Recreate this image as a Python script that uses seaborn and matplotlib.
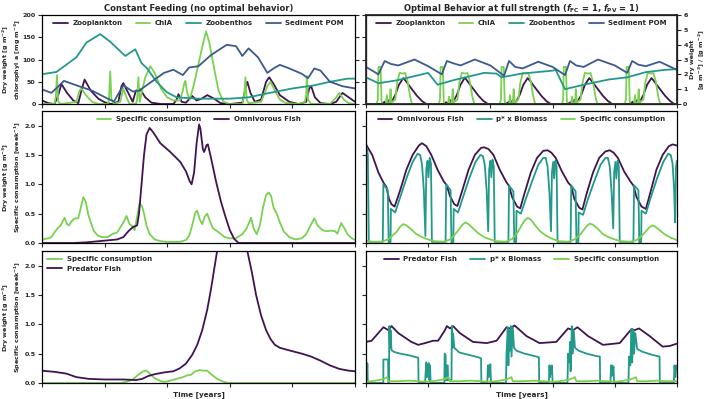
"""Constant feeding vs optimal behaviour, 3x2 panel figure"""

import numpy as np
import matplotlib
matplotlib.use('Agg')
import matplotlib.pyplot as plt
import seaborn as sns

PURPLE = '#3f1451'
GREEN = '#7ad151'
TEAL = '#23998a'
BLUE = '#3b5a8f'

# --- top left: constant feeding, plankton / benthos ---
tl_zoo_t = [0, 0.1, 0.2, 0.26, 0.31, 0.4, 0.5, 0.58, 0.63, 0.68, 0.78, 0.9, 1.0, 1.1, 1.22, 1.27, 1.3,
            1.36, 1.45, 1.5, 1.57, 1.65, 1.75, 1.9, 2.1, 2.15, 2.18, 2.23, 2.3, 2.4, 2.47, 2.55, 2.64,
            2.75, 2.85, 3.0, 3.2, 3.26, 3.28, 3.33, 3.4, 3.5, 3.58, 3.63, 3.7, 3.8, 3.95, 4.1, 4.22,
            4.27, 4.3, 4.36, 4.45, 4.6, 4.7, 4.8, 4.9, 5.0]
tl_zoo_v = [8, 2, 0, 20, 45, 25, 8, 2, 30, 55, 30, 12, 4, 0, 5, 40, 47,
            30, 5, 30, 33, 15, 3, 0, 0, 10, 22, 5, 3, 18, 8, 12, 20,
            12, 2, 0, 3, 40, 50, 25, 5, 10, 50, 60, 45, 20, 5, 0, 5,
            35, 40, 15, 2, 0, 5, 25, 15, 5]
tl_chla_t = [0, 0.2, 0.22, 0.24, 0.26, 0.3, 0.55, 0.6, 0.63, 0.7, 0.8, 0.9, 1.05, 1.07, 1.09, 1.11,
             1.15, 1.25, 1.3, 1.35, 1.4, 1.5, 1.52, 1.54, 1.56, 1.6, 1.65, 1.73, 1.8, 1.9, 2.0, 2.1,
             2.2, 2.25, 2.27, 2.29, 2.32, 2.36, 2.42, 2.5, 2.58, 2.62, 2.67, 2.75, 2.82, 2.9, 3.0,
             3.2, 3.23, 3.25, 3.27, 3.3, 3.5, 3.6, 3.65, 3.72, 3.8, 3.9, 4.1, 4.2, 4.22, 4.23, 4.25,
             4.3, 4.6, 4.7, 4.75, 4.82, 4.9, 5.0]
tl_chla_v = [0, 0, 15, 65, 5, 0, 5, 30, 35, 20, 5, 0, 0, 10, 73, 10,
             0, 5, 35, 15, 0, 0, 10, 60, 5, 30, 60, 85, 70, 35, 15, 8,
             8, 30, 45, 52, 25, 10, 40, 90, 140, 163, 140, 80, 30, 5, 0,
             0, 20, 60, 10, 2, 5, 40, 50, 30, 10, 2, 0, 5, 20, 63, 10,
             0, 0, 15, 25, 10, 2, 0]
tl_zoob_t = [0, 0.23, 0.55, 0.71, 0.93, 1.09, 1.33, 1.49, 1.59, 1.68, 1.83, 1.99, 2.15, 2.5,
             3.0, 3.3, 3.6, 4.0, 4.35, 4.6, 4.88, 5.0]
tl_zoob_v = [67, 72, 105, 138, 157, 140, 108, 123, 92, 80, 50, 27, 15, 12,
             12, 15, 24, 35, 42, 50, 57, 57]
tl_pom_t = [0, 0.15, 0.25, 0.35, 0.55, 0.8, 1.05, 1.15, 1.3, 1.45, 1.55, 1.75, 1.95, 2.1, 2.25,
            2.35, 2.5, 2.7, 2.95, 3.1, 3.2, 3.3, 3.45, 3.6, 3.7, 3.8, 3.95, 4.15, 4.25, 4.35, 4.45,
            4.6, 4.8, 5.0]
tl_pom_v = [33, 25, 38, 52, 42, 30, 12, 6, 42, 28, 30, 50, 70, 77, 65,
            82, 85, 110, 133, 130, 108, 125, 105, 70, 80, 88, 80, 68, 58, 80, 75,
            50, 40, 35]

# --- top right: optimal behaviour, plankton / benthos ---
tr_zoo_t = [0.0, 0.25, 0.3, 0.32, 0.36, 0.385, 0.42, 0.47, 0.53, 0.6, 0.64, 0.72, 0.82, 0.9, 0.97,
            1.24, 1.29, 1.31, 1.35, 1.375, 1.41, 1.46, 1.52, 1.59, 1.63, 1.71, 1.81, 1.89, 1.96,
            2.25, 2.3, 2.32, 2.36, 2.385, 2.42, 2.47, 2.53, 2.6, 2.64, 2.72, 2.82, 2.9, 2.97,
            3.24, 3.29, 3.31, 3.35, 3.375, 3.41, 3.46, 3.52, 3.59, 3.63, 3.71, 3.81, 3.89, 3.96,
            4.24, 4.29, 4.31, 4.35, 4.375, 4.41, 4.46, 4.52, 4.59, 4.63, 4.71, 4.81, 4.89, 4.96, 5.0]
tr_zoo_v = [0, 0, 0.15, 0, 0.25, 0.05, 0.2, 0.6, 1.3, 1.75, 1.55, 1.1, 0.55, 0.2, 0,
            0, 0.12, 0, 0.28, 0.05, 0.22, 0.6, 1.3, 1.78, 1.55, 1.1, 0.55, 0.2, 0,
            0, 0.15, 0, 0.25, 0.05, 0.2, 0.6, 1.3, 1.75, 1.55, 1.1, 0.55, 0.2, 0,
            0, 0.12, 0, 0.28, 0.05, 0.22, 0.6, 1.3, 1.75, 1.55, 1.1, 0.55, 0.2, 0,
            0, 0.15, 0, 0.25, 0.05, 0.2, 0.6, 1.3, 1.75, 1.55, 1.1, 0.55, 0.2, 0, 0]
tr_chla_t = [0.0,
             0.17, 0.19, 0.2, 0.235, 0.25, 0.26, 0.32, 0.335, 0.35, 0.38, 0.395, 0.41, 0.47, 0.5, 0.54, 0.6, 0.63, 0.67, 0.71, 0.74,
             1.17, 1.19, 1.2, 1.235, 1.25, 1.26, 1.32, 1.335, 1.35, 1.38, 1.395, 1.41, 1.47, 1.5, 1.54, 1.6, 1.63, 1.67, 1.71, 1.74,
             2.15, 2.17, 2.18, 2.215, 2.23, 2.24, 2.3, 2.315, 2.33, 2.36, 2.375, 2.39, 2.45, 2.48, 2.52, 2.58, 2.61, 2.65, 2.69, 2.72,
             3.15, 3.17, 3.18, 3.215, 3.23, 3.24, 3.3, 3.315, 3.33, 3.36, 3.375, 3.39, 3.45, 3.48, 3.52, 3.58, 3.61, 3.65, 3.69, 3.72,
             4.16, 4.18, 4.19, 4.225, 4.24, 4.25, 4.31, 4.325, 4.34, 4.37, 4.385, 4.4, 4.46, 4.49, 4.53, 4.59, 4.62, 4.66, 4.7, 4.73,
             5.0]
tr_chla_v = [0,
             0, 0.3, 2.5, 2.5, 0.2, 0, 0, 0.6, 0, 0, 1.0, 0.1, 0.3, 1.4, 2.1, 2.05, 2.1, 1.5, 0.5, 0,
             0, 0.3, 2.5, 2.5, 0.2, 0, 0, 0.5, 0, 0, 1.0, 0.1, 0.3, 1.4, 2.1, 2.05, 2.1, 1.5, 0.5, 0,
             0, 0.3, 2.5, 2.5, 0.2, 0, 0, 0.6, 0, 0, 1.0, 0.1, 0.3, 1.4, 2.1, 2.05, 2.1, 1.5, 0.5, 0,
             0, 0.3, 2.5, 2.5, 0.2, 0, 0, 0.5, 0, 0, 1.0, 0.1, 0.3, 1.4, 2.1, 2.05, 2.1, 1.5, 0.5, 0,
             0, 0.3, 2.5, 2.5, 0.2, 0, 0, 0.6, 0, 0, 1.0, 0.1, 0.3, 1.4, 2.1, 2.05, 2.1, 1.5, 0.5, 0,
             0]
tr_zoob_t = [0, 0.2, 0.5, 0.95, 1.0, 1.15, 1.4, 1.9, 2.1, 2.18, 2.5, 3.0, 3.05, 3.2, 3.5, 3.9,
             4.2, 4.5, 4.8, 5.0]
tr_zoob_v = [1.8, 1.4, 1.6, 2.05, 2.1, 1.3, 1.6, 2.1, 2.05, 1.8, 2.05, 2.25, 2.3, 1.0, 1.3, 1.65,
             1.8, 2.15, 2.3, 2.35]
tr_pom_t = [0, 0.2, 0.3, 0.4, 0.52, 0.78, 1.0, 1.22, 1.3, 1.4, 1.52, 1.75, 2.0, 2.22, 2.3, 2.4,
            2.52, 2.77, 3.0, 3.2, 3.28, 3.38, 3.5, 3.73, 4.0, 4.2, 4.28, 4.38, 4.5, 4.72, 5.0]
tr_pom_v = [2.5, 2.0, 2.9, 2.7, 2.6, 3.0, 2.55, 2.0, 2.9, 2.75, 2.6, 3.0, 2.6, 1.9, 2.9, 2.5,
            2.4, 2.85, 2.5, 1.95, 2.9, 2.6, 2.5, 3.0, 2.6, 2.1, 2.9, 2.65, 2.55, 2.85, 2.3]

# --- middle left: omnivorous fish, constant feeding ---
ml_fish_t = [0, 0.5, 0.7, 1.0, 1.2, 1.3, 1.38, 1.45, 1.52, 1.55, 1.59, 1.63, 1.67, 1.72, 1.78,
             1.89, 2.05, 2.21, 2.3, 2.36, 2.39, 2.43, 2.47, 2.51, 2.53, 2.57, 2.59, 2.63, 2.65,
             2.7, 2.78, 2.86, 2.93, 3.0, 3.07, 3.14, 5.0]
ml_fish_v = [0, 0, 0.01, 0.04, 0.06, 0.1, 0.2, 0.27, 0.3, 0.5, 1.0, 1.5, 1.85, 1.96, 1.88,
             1.7, 1.55, 1.38, 1.22, 1.05, 1.0, 1.2, 1.7, 2.02, 1.95, 1.6, 1.55, 1.67, 1.68,
             1.45, 1.05, 0.7, 0.45, 0.22, 0.07, 0.0, 0.0]
ml_cons_t = [0, 0.05, 0.1, 0.15, 0.2, 0.25, 0.3, 0.36, 0.4, 0.43, 0.48, 0.53, 0.58, 0.62, 0.66,
             0.7, 0.74, 0.78, 0.83, 0.9, 0.96, 1.05, 1.12, 1.2, 1.26, 1.3, 1.35, 1.4, 1.45, 1.48,
             1.52, 1.56, 1.6, 1.63, 1.67, 1.72, 1.8, 1.9, 2.0, 2.2, 2.3, 2.35, 2.4, 2.45, 2.48,
             2.52, 2.56, 2.6, 2.64, 2.68, 2.73, 2.8, 2.86, 2.92, 3.0, 3.1, 3.2, 3.27, 3.34, 3.38,
             3.43, 3.48, 3.53, 3.58, 3.62, 3.66, 3.7, 3.75, 3.8, 3.86, 3.95, 4.05, 4.15, 4.22,
             4.28, 4.35, 4.4, 4.48, 4.55, 4.62, 4.68, 4.72, 4.78, 4.83, 4.88, 4.95, 5.0]
ml_cons_v = [0.05, 0.07, 0.08, 0.1, 0.18, 0.25, 0.3, 0.43, 0.32, 0.3, 0.38, 0.42, 0.42, 0.6, 0.78,
             0.7, 0.48, 0.35, 0.2, 0.12, 0.1, 0.1, 0.15, 0.18, 0.28, 0.35, 0.46, 0.32, 0.28, 0.22,
             0.45, 0.68, 0.62, 0.5, 0.3, 0.15, 0.06, 0.03, 0.02, 0.02, 0.05, 0.12, 0.3, 0.52, 0.55,
             0.4, 0.32, 0.45, 0.5, 0.38, 0.25, 0.2, 0.15, 0.1, 0.08, 0.08, 0.15, 0.25, 0.43, 0.25,
             0.15, 0.3, 0.6, 0.82, 0.86, 0.8, 0.6, 0.5, 0.35, 0.2, 0.1, 0.06, 0.08, 0.15,
             0.28, 0.42, 0.3, 0.22, 0.2, 0.21, 0.2, 0.16, 0.34, 0.25, 0.15, 0.08, 0.05]

# --- middle right: omnivorous fish, optimal behaviour ---
mr_fish_t = [0, 0.1, 0.2, 0.28, 0.33, 0.37, 0.41, 0.46, 0.55, 0.65, 0.75, 0.85, 0.9, 0.97, 1.05,
             1.15, 1.25, 1.3, 1.35, 1.42, 1.47, 1.55, 1.65, 1.75, 1.85, 1.9, 1.97, 2.05, 2.15, 2.25,
             2.3, 2.35, 2.43, 2.48, 2.55, 2.65, 2.75, 2.85, 2.92, 2.98, 3.05, 3.15, 3.25, 3.3, 3.35,
             3.43, 3.48, 3.55, 3.65, 3.75, 3.85, 3.92, 3.98, 4.05, 4.15, 4.25, 4.3, 4.35, 4.43, 4.5,
             4.57, 4.67, 4.77, 4.87, 4.93, 5.0]
mr_fish_v = [1.68, 1.5, 1.2, 1.03, 0.95, 0.75, 0.66, 0.62, 0.9, 1.25, 1.5, 1.66, 1.7, 1.65, 1.5,
             1.25, 1.05, 0.98, 0.8, 0.66, 0.63, 0.9, 1.25, 1.5, 1.62, 1.63, 1.6, 1.5, 1.25, 1.05,
             0.97, 0.78, 0.62, 0.59, 0.85, 1.2, 1.45, 1.57, 1.58, 1.54, 1.45, 1.22, 1.03, 0.97, 0.75,
             0.6, 0.57, 0.85, 1.2, 1.45, 1.56, 1.58, 1.54, 1.45, 1.22, 1.05, 0.98, 0.78, 0.62, 0.58,
             0.85, 1.25, 1.5, 1.65, 1.68, 1.66]
mr_pbio_t = [0, 0.015, 0.03, 0.045,
             0.27, 0.28, 0.35, 0.365, 0.395, 0.4, 0.47, 0.55, 0.65, 0.75, 0.83, 0.87, 0.9, 0.93, 0.955, 0.97, 0.99, 1.005, 1.025, 1.045, 1.06,
             1.28, 1.29, 1.36, 1.375, 1.405, 1.41, 1.48, 1.56, 1.66, 1.76, 1.84, 1.88, 1.91, 1.94, 1.965, 1.98, 2.0, 2.015, 2.035, 2.055, 2.07,
             2.29, 2.3, 2.37, 2.385, 2.415, 2.42, 2.49, 2.57, 2.67, 2.77, 2.85, 2.89, 2.92, 2.95, 2.975, 2.99, 3.01, 3.025, 3.045, 3.065, 3.08,
             3.29, 3.3, 3.37, 3.385, 3.415, 3.42, 3.49, 3.57, 3.67, 3.77, 3.85, 3.89, 3.92, 3.95, 3.975, 3.99, 4.01, 4.025, 4.045, 4.065, 4.08,
             4.3, 4.31, 4.38, 4.395, 4.425, 4.43, 4.5, 4.58, 4.68, 4.78, 4.86, 4.9, 4.93, 4.955, 4.97, 4.985, 5.0]
mr_pbio_v = [1.4, 1.62, 1.5, 0.02,
             0.02, 1.0, 0.9, 0.0, 0.02, 0.58, 0.52, 0.78, 1.1, 1.38, 1.52, 1.5, 1.35, 0.9, 0.12, 1.25, 1.4, 1.12, 1.45, 1.35, 0.02,
             0.02, 1.0, 0.9, 0.0, 0.02, 0.58, 0.52, 0.78, 1.1, 1.38, 1.5, 1.48, 1.33, 0.9, 0.2, 1.25, 1.4, 1.12, 1.42, 1.3, 0.02,
             0.02, 0.98, 0.88, 0.0, 0.02, 0.55, 0.5, 0.75, 1.05, 1.33, 1.45, 1.45, 1.3, 0.85, 0.2, 1.2, 1.38, 1.1, 1.4, 1.3, 0.02,
             0.02, 0.98, 0.88, 0.0, 0.02, 0.52, 0.48, 0.75, 1.05, 1.33, 1.45, 1.45, 1.3, 0.85, 0.25, 1.2, 1.38, 1.1, 1.4, 1.3, 0.02,
             0.02, 0.98, 0.9, 0.0, 0.02, 0.55, 0.5, 0.78, 1.1, 1.38, 1.52, 1.5, 1.35, 0.9, 0.35, 1.3, 1.4]
mr_cons_t = [0, 0.1,
             0.25, 0.35, 0.4, 0.45, 0.5, 0.55, 0.6, 0.65, 0.72, 0.8, 0.9, 1.0, 1.1,
             1.25, 1.35, 1.4, 1.45, 1.5, 1.55, 1.6, 1.65, 1.72, 1.8, 1.9, 2.0, 2.1,
             2.25, 2.35, 2.4, 2.45, 2.5, 2.55, 2.6, 2.65, 2.72, 2.8, 2.9, 3.0, 3.1,
             3.25, 3.35, 3.4, 3.45, 3.5, 3.55, 3.6, 3.65, 3.72, 3.8, 3.9, 4.0, 4.1,
             4.25, 4.35, 4.4, 4.45, 4.5, 4.55, 4.6, 4.65, 4.72, 4.8, 4.9, 5.0]
mr_cons_v = [0.04, 0.02,
             0.02, 0.06, 0.1, 0.15, 0.2, 0.28, 0.32, 0.3, 0.24, 0.16, 0.1, 0.06, 0.03,
             0.02, 0.06, 0.11, 0.17, 0.24, 0.31, 0.35, 0.32, 0.25, 0.17, 0.1, 0.06, 0.03,
             0.02, 0.07, 0.13, 0.2, 0.3, 0.38, 0.43, 0.4, 0.3, 0.2, 0.12, 0.07, 0.03,
             0.02, 0.06, 0.1, 0.15, 0.22, 0.29, 0.33, 0.31, 0.25, 0.16, 0.1, 0.06, 0.03,
             0.02, 0.05, 0.09, 0.14, 0.2, 0.26, 0.3, 0.28, 0.22, 0.15, 0.09, 0.05]

# --- bottom left: predator fish, constant feeding ---
bl_fish_t = [0, 0.2, 0.39, 0.55, 0.75, 1.0, 1.3, 1.5, 1.6, 1.7, 1.8, 1.95, 2.1, 2.2, 2.3, 2.4,
             2.48, 2.56, 2.64, 2.7, 2.76, 2.82, 2.9, 3.0, 3.1, 3.2, 3.28, 3.35, 3.42, 3.5, 3.58,
             3.65, 3.72, 3.8, 3.97, 4.15, 4.3, 4.45, 4.6, 4.75, 4.9, 5.0]
bl_fish_v = [0.21, 0.19, 0.16, 0.1, 0.07, 0.06, 0.06, 0.05, 0.07, 0.12, 0.15, 0.18, 0.2, 0.25, 0.33, 0.48,
             0.65, 0.9, 1.25, 1.6, 2.0, 2.4, 2.8, 3.0, 2.95, 2.6, 2.25, 1.9, 1.5, 1.15, 0.9,
             0.75, 0.65, 0.6, 0.55, 0.5, 0.45, 0.38, 0.3, 0.24, 0.21, 0.2]
bl_cons_t = [0, 1.25, 1.35, 1.45, 1.55, 1.62, 1.67, 1.72, 1.8, 1.9, 1.97, 2.05, 2.15, 2.25, 2.32,
             2.38, 2.45, 2.52, 2.58, 2.64, 2.7, 2.8, 2.9, 2.98, 5.0]
bl_cons_v = [0, 0, 0.02, 0.06, 0.15, 0.2, 0.21, 0.16, 0.08, 0.03, 0.02, 0.04, 0.07, 0.1, 0.13,
             0.14, 0.2, 0.22, 0.21, 0.21, 0.15, 0.07, 0.02, 0, 0]

# --- bottom right: predator fish, optimal behaviour ---
br_fish_t = [0, 0.09, 0.28, 0.36, 0.41, 0.52, 0.73, 0.84, 0.95, 1.08, 1.16, 1.27, 1.3, 1.35, 1.4,
             1.51, 1.72, 1.94, 2.1, 2.26, 2.31, 2.39, 2.58, 2.79, 3.06, 3.25, 3.33, 3.4, 3.57, 3.81,
             4.08, 4.27, 4.32, 4.39, 4.56, 4.77, 4.88, 5.0]
br_fish_v = [0.7, 0.72, 0.95, 0.9, 0.97, 0.85, 0.7, 0.65, 0.68, 0.72, 0.72, 0.9, 0.97, 0.93, 0.97,
             0.85, 0.7, 0.68, 0.72, 0.95, 0.93, 0.98, 0.8, 0.68, 0.7, 0.93, 0.9, 0.95, 0.8, 0.65,
             0.68, 0.92, 0.9, 0.93, 0.8, 0.62, 0.63, 0.67]
br_pbio_t = [0, 0.008, 0.015, 0.022, 0.03,
             0.279, 0.28, 0.355, 0.36, 0.37, 0.375, 0.385, 0.395, 0.41, 0.45, 0.55, 0.7, 0.84, 0.845,
             0.95, 0.96, 0.97, 0.98, 0.99, 1.0, 1.01, 1.02, 1.03, 1.04,
             1.26, 1.265, 1.28, 1.285, 1.3, 1.305, 1.315, 1.32, 1.375, 1.38, 1.39, 1.4, 1.42, 1.5, 1.65, 1.8, 1.85, 1.855,
             1.95, 1.96, 1.97, 1.98, 1.99, 2.0, 2.01,
             2.25, 2.26, 2.28, 2.29, 2.3, 2.31, 2.33, 2.34, 2.36, 2.38, 2.42, 2.55, 2.7, 2.78, 2.785,
             2.94, 2.95, 2.96, 2.97, 2.98, 2.99, 3.0,
             3.24, 3.25, 3.27, 3.28, 3.29, 3.31, 3.32, 3.34, 3.36, 3.42, 3.55, 3.7, 3.76, 3.765,
             3.93, 3.94, 3.95, 3.96, 3.97, 3.98, 3.99,
             4.22, 4.23, 4.25, 4.27, 4.28, 4.3, 4.31, 4.33, 4.36, 4.45, 4.6, 4.72, 4.725,
             4.95, 4.96, 4.975, 4.99, 5.0]
br_pbio_v = [0.3, 0.35, 0.1, 0.33, 0.0,
             0.0, 0.4, 0.4, 0.0, 0.0, 0.97, 0.6, 0.9, 0.56, 0.53, 0.5, 0.47, 0.43, 0.0,
             0.0, 0.2, 0.35, 0.1, 0.3, 0.22, 0.34, 0.05, 0.3, 0.0,
             0.0, 0.5, 0.48, 0.05, 0.05, 0.3, 0.3, 0.05, 0.05, 0.97, 0.6, 0.85, 0.6, 0.52, 0.48, 0.44, 0.42, 0.0,
             0.0, 0.3, 0.1, 0.3, 0.25, 0.32, 0.0,
             0.0, 0.5, 0.95, 0.3, 0.9, 0.55, 0.97, 0.45, 0.95, 0.6, 0.55, 0.5, 0.46, 0.44, 0.0,
             0.0, 0.3, 0.1, 0.28, 0.15, 0.3, 0.0,
             0.0, 0.5, 0.35, 0.7, 0.2, 0.97, 0.5, 0.9, 0.6, 0.55, 0.5, 0.46, 0.45, 0.0,
             0.0, 0.3, 0.12, 0.3, 0.2, 0.28, 0.0,
             0.0, 0.45, 0.3, 0.92, 0.35, 0.9, 0.5, 0.85, 0.58, 0.53, 0.48, 0.45, 0.0,
             0.0, 0.3, 0.1, 0.3, 0.25]
br_cons_t = [0, 0.15, 0.25, 0.3, 0.34, 0.36, 0.5, 0.7, 0.85,
             0.99, 1.14, 1.24, 1.29, 1.33, 1.35, 1.49, 1.69, 1.84,
             2.0, 2.15, 2.25, 2.3, 2.34, 2.36, 2.5, 2.7, 2.85,
             3.02, 3.17, 3.27, 3.32, 3.36, 3.38, 3.52, 3.72, 3.87,
             4.0, 4.15, 4.25, 4.3, 4.34, 4.36, 4.5, 4.7, 4.85, 5.0]
br_cons_v = [0.02, 0.04, 0.06, 0.08, 0.1, 0.03, 0.03, 0.04, 0.03,
             0.02, 0.04, 0.06, 0.08, 0.1, 0.03, 0.03, 0.04, 0.03,
             0.02, 0.04, 0.06, 0.08, 0.1, 0.03, 0.03, 0.04, 0.03,
             0.02, 0.04, 0.06, 0.08, 0.1, 0.03, 0.03, 0.04, 0.03,
             0.02, 0.04, 0.06, 0.08, 0.1, 0.03, 0.03, 0.04, 0.03, 0.03]

YEARS = [0, 1, 2, 3, 4, 5]
TICK_FS = 4.6
LEG_FS = 5.0
LAB_FS = 4.6
TITLE_FS = 6.0
LW = 1.3


def line(ax, t, v, color, label):
    sns.lineplot(x=t, y=v, ax=ax, color=color, label=label, linewidth=LW,
                 estimator=None, sort=False)


def style_axis(ax, ylim, yticks, ylabels=True):
    ax.set_xlim(0, 5)
    ax.set_ylim(*ylim)
    ax.set_xticks(YEARS)
    ax.set_xticklabels([])
    ax.set_yticks(yticks)
    if not ylabels:
        ax.set_yticklabels([])
    ax.tick_params(labelsize=TICK_FS, length=3, width=0.8, pad=1.5)
    for s in ax.spines.values():
        s.set_linewidth(0.9)
        s.set_color('black')
    ax.set_xlabel('')
    ax.set_ylabel('')


def set_legend(ax, ncol, loc='upper center'):
    ax.legend(loc=loc, ncol=ncol, frameon=False, handlelength=2.1,
              columnspacing=1.9, borderaxespad=0.35, handletextpad=0.7,
              prop={'weight': 'bold', 'size': LEG_FS})


def left_label(ax, text):
    ax.set_ylabel(text, fontsize=LAB_FS)
    ax.yaxis.set_label_coords(-0.062, 0.5)


sns.set_theme(style='ticks')
plt.rcParams['font.family'] = ['DejaVu Sans']
plt.rcParams['font.weight'] = 'bold'
plt.rcParams['axes.labelweight'] = 'bold'
plt.rcParams['axes.titleweight'] = 'bold'
plt.rcParams['mathtext.default'] = 'bf'

fig = plt.figure(figsize=(7.09, 3.99), dpi=100)
LX, LW_ = 0.0592, 0.4415
RX, RW = 0.5162, 0.4386
rows = [(0.7393, 0.2231), (0.391, 0.331), (0.0401, 0.331)]

ax_tl = fig.add_axes([LX, rows[0][0], LW_, rows[0][1]])
ax_tr = fig.add_axes([RX, rows[0][0], RW, rows[0][1]])
ax_ml = fig.add_axes([LX, rows[1][0], LW_, rows[1][1]])
ax_mr = fig.add_axes([RX, rows[1][0], RW, rows[1][1]])
ax_bl = fig.add_axes([LX, rows[2][0], LW_, rows[2][1]])
ax_br = fig.add_axes([RX, rows[2][0], RW, rows[2][1]])

# top left
line(ax_tl, tl_zoo_t, tl_zoo_v, PURPLE, 'Zooplankton')
line(ax_tl, tl_chla_t, tl_chla_v, GREEN, 'ChlA')
line(ax_tl, tl_zoob_t, tl_zoob_v, TEAL, 'Zoobenthos')
line(ax_tl, tl_pom_t, tl_pom_v, BLUE, 'Sediment POM')
style_axis(ax_tl, (0, 200), [0, 50, 100, 150, 200])
ax_tl.tick_params(right=True)
set_legend(ax_tl, 4)
ax_tl.set_title('Constant Feeding (no optimal behavior)', fontsize=TITLE_FS, pad=3)
left_label(ax_tl, 'Dry weight [g m$^{-2}$]\nchlorophyl a [mg m$^{-3}$]')

# top right, values on a twin axis
style_axis(ax_tr, (0, 200), [0, 50, 100, 150, 200], ylabels=False)
ax_tr2 = ax_tr.twinx()
line(ax_tr2, tr_zoo_t, tr_zoo_v, PURPLE, 'Zooplankton')
line(ax_tr2, tr_chla_t, tr_chla_v, GREEN, 'ChlA')
line(ax_tr2, tr_zoob_t, tr_zoob_v, TEAL, 'Zoobenthos')
line(ax_tr2, tr_pom_t, tr_pom_v, BLUE, 'Sediment POM')
ax_tr2.set_ylim(0, 6)
ax_tr2.set_yticks([0, 1, 2, 3, 4, 5, 6])
ax_tr2.tick_params(labelsize=TICK_FS, length=3, width=0.8, pad=1.5)
ax_tr2.set_xlabel('')
ax_tr2.set_ylabel('Dry weight\n[g m$^{-3}$] / [g m$^{-2}$]', fontsize=LAB_FS, labelpad=2)
set_legend(ax_tr2, 4)
ax_tr.set_title('Optimal Behavior at full strength ($\\mathit{f}_{\\rm FC}$ = 1, $\\mathit{f}_{\\rm PV}$ = 1)',
                fontsize=TITLE_FS, pad=3)

# middle
fish_label = 'Dry weight [g m$^{-3}$]\nSpecific consumption [week$^{-1}$]'
line(ax_ml, ml_cons_t, ml_cons_v, GREEN, 'Specific consumption')
line(ax_ml, ml_fish_t, ml_fish_v, PURPLE, 'Omnivorous Fish')
style_axis(ax_ml, (0, 2.25), [0, 0.5, 1.0, 1.5, 2.0])
set_legend(ax_ml, 2)
left_label(ax_ml, fish_label)

line(ax_mr, mr_fish_t, mr_fish_v, PURPLE, 'Omnivorous Fish')
line(ax_mr, mr_pbio_t, mr_pbio_v, TEAL, 'p* x Biomass')
line(ax_mr, mr_cons_t, mr_cons_v, GREEN, 'Specific consumption')
style_axis(ax_mr, (0, 2.25), [0, 0.5, 1.0, 1.5, 2.0], ylabels=False)
set_legend(ax_mr, 3)

# bottom
line(ax_bl, bl_cons_t, bl_cons_v, GREEN, 'Specific consumption')
line(ax_bl, bl_fish_t, bl_fish_v, PURPLE, 'Predator Fish')
style_axis(ax_bl, (0, 2.25), [0, 0.5, 1.0, 1.5, 2.0])
set_legend(ax_bl, 1, loc='upper left')
left_label(ax_bl, fish_label)
ax_bl.set_xlabel('Time [years]', fontsize=5.2, labelpad=1.5)

line(ax_br, br_fish_t, br_fish_v, PURPLE, 'Predator Fish')
line(ax_br, br_pbio_t, br_pbio_v, TEAL, 'p* x Biomass')
line(ax_br, br_cons_t, br_cons_v, GREEN, 'Specific consumption')
style_axis(ax_br, (0, 2.25), [0, 0.5, 1.0, 1.5, 2.0], ylabels=False)
set_legend(ax_br, 3)
ax_br.set_xlabel('Time [years]', fontsize=5.2, labelpad=1.5)

fig.savefig('out.png', dpi=100)
plt.close(fig)
